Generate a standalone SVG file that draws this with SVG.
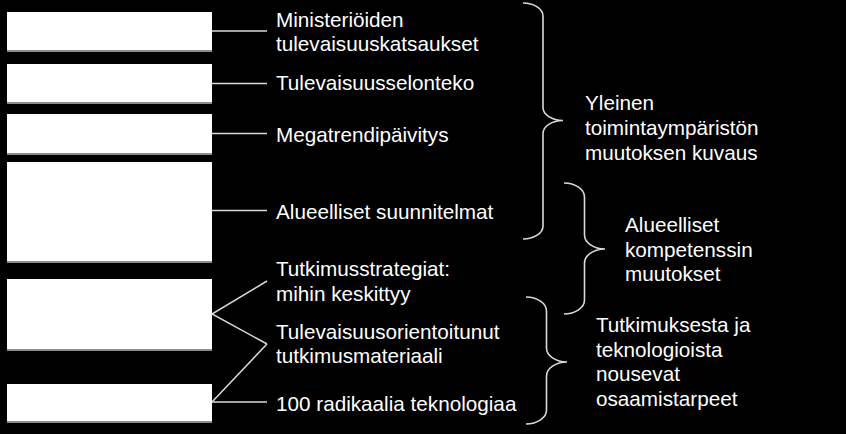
<svg xmlns="http://www.w3.org/2000/svg" width="846" height="434" viewBox="0 0 846 434">
<style>
.box{fill:#ffffff}
.sh{fill:#8c8c8c}
.ln{stroke:#d9d9d9;stroke-width:1.5;fill:none}
.br{stroke:#d9d9d9;stroke-width:1.6;fill:none}
text{font-family:"Liberation Sans",Arial,sans-serif;font-size:20.7px;fill:#ffffff}
</style>
<rect x="0" y="0" width="846" height="434" fill="#000000"/>
<g id="box1"><rect class="sh" x="7" y="13" width="205" height="39"/><rect class="box" x="7" y="12" width="205" height="38"/></g>
<g id="box2"><rect class="sh" x="7" y="65" width="205" height="39"/><rect class="box" x="7" y="64" width="205" height="38"/></g>
<g id="box3"><rect class="sh" x="7" y="115" width="205" height="40"/><rect class="box" x="7" y="114" width="205" height="39"/></g>
<g id="box4"><rect class="sh" x="7" y="163" width="205" height="100"/><rect class="box" x="7" y="162" width="205" height="99"/></g>
<g id="box5"><rect class="sh" x="7" y="280" width="205" height="71"/><rect class="box" x="7" y="279" width="205" height="70"/></g>
<g id="box6"><rect class="sh" x="7" y="385" width="205" height="38"/><rect class="box" x="7" y="384" width="205" height="37"/></g>
<g id="connectors">
<line class="ln" x1="212" y1="31" x2="267" y2="31"/>
<line class="ln" x1="212" y1="83.5" x2="267" y2="83.5"/>
<line class="ln" x1="212" y1="133.5" x2="267" y2="133.5"/>
<line class="ln" x1="212" y1="210.5" x2="267" y2="210.5"/>
<polyline class="ln" points="267,281 212,314 267,344"/>
<line class="ln" x1="267" y1="344" x2="212" y2="402"/>
<line class="ln" x1="212" y1="402" x2="267" y2="402"/>
</g>
<g id="labels">
<text x="276" y="27">Ministeriöiden</text>
<text x="276" y="51">tulevaisuuskatsaukset</text>
<text x="276" y="90">Tulevaisuusselonteko</text>
<text x="276" y="141.5">Megatrendipäivitys</text>
<text x="276" y="218.5">Alueelliset suunnitelmat</text>
<text x="276" y="275.7">Tutkimusstrategiat:</text>
<text x="276" y="300.5">mihin keskittyy</text>
<text x="276" y="338.5">Tulevaisuusorientoitunut</text>
<text x="276" y="363">tutkimusmateriaali</text>
<text x="276" y="411">100 radikaalia teknologiaa</text>
</g>
<g id="brace1">
<path class="br" d="M523,3 A20,13 0 0 1 543,16 L543,107.5 A20,13 0 0 0 563,120.5 A20,13 0 0 0 543,133.5 L543,226 A20,13 0 0 1 523,239"/>
<text x="585" y="110">Yleinen</text>
<text x="585" y="135">toimintaympäristön</text>
<text x="585" y="160">muutoksen kuvaus</text>
</g>
<g id="brace2">
<path class="br" d="M564,183 A20.5,14 0 0 1 584.5,197 L584.5,235 A20.5,14 0 0 0 605,249 A20.5,14 0 0 0 584.5,263 L584.5,300 A20.5,14 0 0 1 564,314"/>
<text x="625" y="231.7">Alueelliset</text>
<text x="625" y="256.5">kompetenssin</text>
<text x="625" y="281">muutokset</text>
</g>
<g id="brace3">
<path class="br" d="M526,297 A20.5,14 0 0 1 546.5,311 L546.5,348 A20.5,14 0 0 0 567,362 A20.5,14 0 0 0 546.5,376 L546.5,410 A20.5,14 0 0 1 526,424"/>
<text x="596" y="331.7">Tutkimuksesta ja</text>
<text x="596" y="356.5">teknologioista</text>
<text x="596" y="381">nousevat</text>
<text x="596" y="405.7">osaamistarpeet</text>
</g>
</svg>
